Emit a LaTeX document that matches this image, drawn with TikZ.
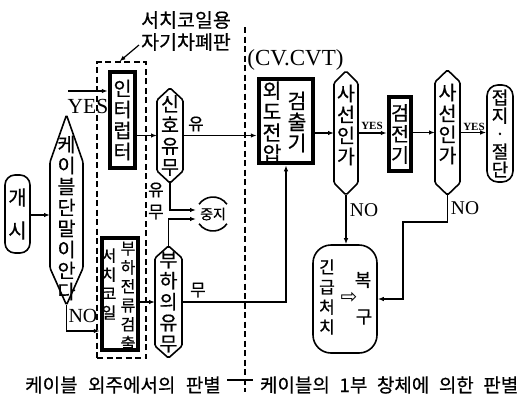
\documentclass[tikz,border=0pt]{standalone}
\usepackage{fontspec}
\setmainfont{Liberation Serif}
\newfontfamily\kr{Noto Sans CJK KR}[FakeBold=0.6]
\newfontfamily\dv{DejaVu Sans}
\usetikzlibrary{arrows.meta,calc}
\newcommand{\hexv}[3]{\draw[shapeline] (#1.north) -- ([yshift=-#2]#1.north east) -- ([yshift=#3]#1.south east) -- (#1.south) -- ([yshift=#3]#1.south west) -- ([yshift=-#2]#1.north west) -- cycle;}
\begin{document}
\begin{tikzpicture}[x=1pt,y=-1pt,
  conn/.style={line width=1.2pt,-{Latex[length=6pt,width=4.5pt]}},
  plain/.style={line width=1.2pt},
  shapeline/.style={line width=1.6pt, rounded corners=1.5pt},
  thickbox/.style={draw,line width=4.5pt,inner sep=0pt},
  vt/.style={font=\kr\fontsize{19.5}{21}\selectfont,align=center,inner sep=0pt},
  ghost/.style={inner sep=0pt,outer sep=0pt},
  lbl/.style={font=\kr\fontsize{17}{18}\selectfont,inner sep=0pt},
  latin/.style={font=\fontsize{21.5}{22}\selectfont,inner sep=0pt},
  smallyes/.style={font=\bfseries\fontsize{11}{12}\selectfont,inner sep=0pt},
  dashline/.style={line width=1.2pt,dash pattern=on 6pt off 3.5pt},
  bottomtxt/.style={font=\kr\fontsize{19}{20}\selectfont,inner sep=0pt},
]
\useasboundingbox (0,0) rectangle (519,405);

% start
\node[draw,line width=1.6pt,rounded corners=10pt,minimum width=25pt,minimum height=78pt,inner sep=0pt,font=\kr\fontsize{20}{33}\selectfont,align=center] (start) at (17.5,214) {개\\시};

% cable end hexagon
\node[ghost,minimum width=33pt,minimum height=190pt] (cable) at (66.5,210) {};
\hexv{cable}{47pt}{37pt}
\node[vt] (cabletxt) at (66.5,218) {케\\이\\블\\단\\말\\이\\안\\다};
\draw[conn] (start.east |- 0,215) -- (cable.west |- 0,215);

% magnetic shield (dashed) and its label
\node[draw,dashline,minimum width=49pt,minimum height=296pt,inner sep=0pt] (shield) at (121.5,210) {};
\node[font=\kr\fontsize{19.5}{22}\selectfont,align=center,inner sep=0pt] (shieldlbl) at (186,31) {서치코일용\\자기차폐판};
\coordinate (lblarrow) at (139,45);
\draw[conn] (lblarrow) -- ([xshift=-2pt]shield.north);

% interrupter
\node[thickbox,minimum width=25pt,minimum height=96pt,vt] (intr) at (122.5,120) {인\\터\\럽\\터};
\coordinate (yesin) at (68,91);
\draw[conn] (yesin) -- (yesin -| intr.west);
\node[latin] (yeslbl) at (88,106) {YES};

% load current detector
\node[thickbox,minimum width=36pt,minimum height=112pt] (det) at (120,294) {};
\node[vt,font=\kr\fontsize{16}{19}\selectfont] (dettxt1) at (109,284) {서\\치\\코\\일};
\node[vt,font=\kr\fontsize{16}{19}\selectfont] (dettxt2) at (128,296) {부\\하\\전\\류\\검\\출};
\draw[conn] (cable.south) |- (det.west |- 0,331);
\node[latin,font=\fontsize{20}{22}\selectfont] (nolbl) at (83,316) {NO};

% signal hexagon
\node[ghost,minimum width=26pt,minimum height=95pt,vt] (sig) at (170,135.5) {신\\호\\유\\무};
\hexv{sig}{12pt}{12pt}
\draw[conn] (intr.east |- sig.west) -- (sig.west);

% load hexagon
\node[ghost,minimum width=27pt,minimum height=112pt,vt] (load) at (168.5,302) {부\\하\\의\\유\\무};
\hexv{load}{12pt}{12pt}
\draw[conn] (det.east |- load.west) -- (load.west);

% stop
\node[ghost,minimum size=34pt,font=\kr\fontsize{14}{15}\selectfont] (stop) at (213,214) {중지};
\draw[line width=1.6pt] (stop.center) ++(35:17pt) arc[start angle=35,end angle=145,radius=17pt];
\draw[line width=1.6pt] (stop.center) ++(215:17pt) arc[start angle=215,end angle=325,radius=17pt];
\draw[conn] (sig.south) |- ([yshift=4pt]stop.west);
\draw[conn] (load.north) |- ([yshift=-5pt]stop.west);
\node[lbl] (lu) at (156,190) {유};
\node[lbl] (lm) at (156,212) {무};

% voltage detector
\node[thickbox,minimum width=54pt,minimum height=84pt] (vdet) at (286,121) {};
\node[vt,font=\kr\fontsize{20.5}{21}\selectfont] (vdett1) at (272,122) {외\\도\\전\\압};
\node[vt,font=\kr\fontsize{20.5}{21}\selectfont] (vdett2) at (297,122) {검\\출\\기};
\node[latin,font=\fontsize{23}{24}\selectfont] (cvlbl) at (295.5,60) {(CV.CVT)};
\draw[conn] (sig.east) -- (sig.east -| vdet.west);
\node[lbl] (yu) at (196,124) {유};
\draw[conn] (load.east) -| (vdet.south);
\node[lbl] (mu) at (198,290) {무};

% divider
\coordinate (divtop) at (245,27);
\coordinate (divbot) at (245,392);
\draw[dashline] (divtop) -- (divbot);

% live line checks
\node[ghost,minimum width=24pt,minimum height=124pt] (sa1) at (346,133) {};
\hexv{sa1}{12pt}{12pt}
\node[vt] (sa1t) at (346,125) {사\\선\\인\\가};
\node[thickbox,minimum width=22pt,minimum height=74pt,vt] (test) at (400,134) {검\\전\\기};
\node[ghost,minimum width=25pt,minimum height=125pt] (sa2) at (447.5,132.5) {};
\hexv{sa2}{12pt}{12pt}
\node[vt] (sa2t) at (447.5,124) {사\\선\\인\\가};
\node[draw,line width=1.6pt,rounded corners=11pt,minimum width=26pt,minimum height=97pt,inner sep=0pt,font=\kr\fontsize{18}{18}\selectfont,align=center] (gnd) at (500,133.5) {접\\지\\·\\절\\단};

\draw[conn] (vdet.east |- sa1.west) -- (sa1.west);
\draw[conn] (sa1.east) -- (sa1.east -| test.west);
\node[smallyes] (y1) at (372,126) {YES};
\draw[conn] (test.east |- sa2.west) -- (sa2.west);
\draw[conn] (sa2.east) -- (sa2.east -| gnd.west);
\node[smallyes] (y2) at (474,127) {YES};

% emergency / restore
\node[draw,line width=1.6pt,rounded corners=18pt,minimum width=64pt,minimum height=108pt,inner sep=0pt] (emer) at (345,299) {};
\node[vt,font=\kr\fontsize{17}{20}\selectfont] (emt1) at (327,297) {긴\\급\\처\\치};
\node[lbl,font=\kr\fontsize{18}{18}\selectfont] (emt2) at (363,280) {복};
\node[lbl,font=\kr\fontsize{18}{18}\selectfont] (emt3) at (364,317) {구};
\node[font=\dv\fontsize{20}{20}\selectfont,inner sep=0pt] (emarr) at (349,298) {⇨};

\draw[conn] (sa1.south) -- (sa1.south |- emer.north);
\node[latin,font=\fontsize{19.5}{21}\selectfont] (no1) at (364,210) {NO};
\coordinate (bend) at (403,222);
\draw[conn] (sa2.south) |- (bend) |- (emer.east);
\node[latin,font=\fontsize{19.5}{21}\selectfont] (no2) at (465,208) {NO};

% bottom labels
\node[bottomtxt] (bl) at (123,385) {케이블\hspace{0.55em}외주에서의\hspace{0.55em}판별};
\node[bottomtxt,anchor=east] (br) at (518.5,385) {케이블의\hspace{0.5em}1부\hspace{0.5em}창체에\hspace{0.5em}의한\hspace{0.5em}판별};
\coordinate (tl) at (227,380);
\coordinate (tr) at (253,380);
\draw[plain] (tl) -- (tr);
\end{tikzpicture}
\end{document}
